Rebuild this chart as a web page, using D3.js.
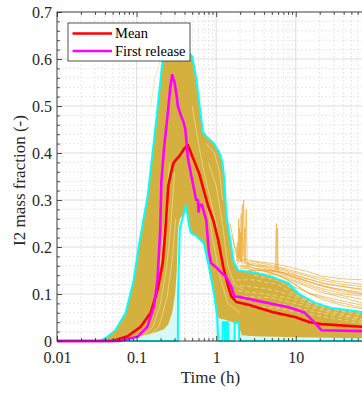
<!DOCTYPE html>
<html>
<head>
<meta charset="utf-8">
<script src="https://cdn.jsdelivr.net/npm/d3@7"></script>
<style>
  body { margin: 0; background: #fff; }
  svg { display: block; font-family: "Liberation Serif", "Times New Roman", serif; }
</style>
</head>
<body>
<svg id="chart" width="362" height="394"></svg>
<script>
// values as [time (h), I2 mass fraction]
var meanCurve = [[0.01,0],[0.05,0],[0.077,0.01],[0.112,0.03],[0.15,0.06],[0.184,0.11],[0.213,0.166],
  [0.23,0.236],[0.25,0.33],[0.27,0.357],[0.29,0.378],[0.31,0.385],[0.35,0.395],[0.4,0.41],[0.44,0.417],
  [0.51,0.39],[0.61,0.357],[0.7,0.32],[0.8,0.285],[0.92,0.257],[1.06,0.215],[1.23,0.157],[1.42,0.115],
  [1.55,0.095],[1.79,0.083],[2.55,0.077],[4.97,0.062],[9.8,0.051],[15,0.04],[21,0.036],[72,0.03]];

var firstRelease = [[0.01,0],[0.06,0],[0.102,0.009],[0.136,0.03],[0.165,0.073],[0.183,0.13],[0.198,0.236],
  [0.205,0.34],[0.22,0.406],[0.245,0.48],[0.265,0.54],[0.28,0.566],[0.3,0.55],[0.32,0.52],[0.33,0.5],
  [0.36,0.48],[0.39,0.465],[0.41,0.45],[0.44,0.39],[0.48,0.357],[0.56,0.3],[0.59,0.3],[0.6,0.275],
  [0.62,0.29],[0.66,0.29],[0.75,0.257],[0.81,0.19],[0.86,0.166],[1.0,0.157],[1.16,0.145],[1.34,0.136],
  [1.55,0.115],[1.7,0.094],[1.9,0.094],[3.0,0.087],[8.2,0.072],[13,0.06],[17.5,0.038],[21,0.023],[72,0.021]];

var upperEnvelope = [[0.01,0],[0.035,0],[0.043,0.009],[0.054,0.023],[0.073,0.06],[0.092,0.13],[0.106,0.2],
  [0.138,0.31],[0.174,0.46],[0.213,0.6],[0.24,0.612],[0.3,0.618],[0.36,0.612],[0.45,0.614],[0.5,0.605],
  [0.56,0.56],[0.62,0.5],[0.68,0.445],[0.75,0.435],[0.94,0.42],[1.1,0.4],[1.2,0.38],[1.27,0.34],
  [1.34,0.27],[1.55,0.2],[1.67,0.166],[1.9,0.15],[2.77,0.147],[4.97,0.137],[8.1,0.123],[10.9,0.1],
  [17.5,0.081],[28.6,0.07],[72,0.061]];

var lowerEnvelope = [[0.01,0],[0.33,0],[0.332,0.1],[0.35,0.24],[0.39,0.27],[0.42,0.29],[0.45,0.25],
  [0.48,0.23],[0.55,0.225],[0.61,0.218],[0.7,0.208],[0.81,0.158],[0.94,0.1],[1.03,0.052],[1.06,0],
  [1.2,0],[1.21,0.04],[1.28,0.04],[1.29,0],[1.33,0],[1.34,0.04],[1.4,0.04],[1.41,0],[1.7,0],
  [1.71,0.04],[1.93,0.04],[1.95,0],[72,0]];

// bottom edge of the dense bundle of runs
var bundleLower = [[0.035,0],[0.07,0.003],[0.1,0.008],[0.13,0.013],[0.17,0.018],[0.22,0.025],[0.25,0.035],
  [0.28,0.06],[0.305,0.1],[0.32,0.15],[0.332,0.24],[0.35,0.26],[0.39,0.27],[0.42,0.29],[0.45,0.25],
  [0.48,0.23],[0.55,0.225],[0.61,0.218],[0.7,0.208],[0.81,0.158],[0.94,0.1],[1.03,0.055],[1.1,0.048],
  [1.3,0.045],[1.6,0.04],[1.9,0.035],[2.1,0.012],[3,0.01],[10,0.008],[72,0.006]];

// light gaps between runs inside the bundle (rise and fall)
var paleRuns = [
  [[0.09,0.004],[0.13,0.03],[0.17,0.09],[0.2,0.17],[0.23,0.27],[0.26,0.38]],
  [[0.11,0.004],[0.16,0.03],[0.2,0.08],[0.24,0.16],[0.27,0.25],[0.3,0.36]],
  [[0.13,0.006],[0.19,0.03],[0.24,0.09],[0.28,0.17],[0.31,0.26]],
  [[0.15,0.5],[0.17,0.56],[0.2,0.6]],
  [[0.5,0.5],[0.6,0.42],[0.7,0.36],[0.85,0.3],[1.0,0.25],[1.2,0.17],[1.5,0.1],[2,0.08]],
  [[0.6,0.36],[0.75,0.3],[0.9,0.22],[1.1,0.14],[1.4,0.08],[2,0.06]],
  [[0.8,0.38],[1.0,0.33],[1.2,0.25],[1.4,0.16],[1.7,0.12],[2.2,0.11]],
  [[0.75,0.42],[0.95,0.4],[1.1,0.36],[1.2,0.3]]
];

// speckled gaps in the tail of the bundle
var paleTail = [
  [[1.8,0.13],[3,0.13],[6,0.12],[10,0.098],[20,0.074],[72,0.057]],
  [[2,0.118],[4,0.112],[8,0.1],[15,0.082],[40,0.062],[72,0.052]],
  [[1.9,0.107],[4,0.1],[9,0.09],[20,0.07],[72,0.046]],
  [[2.2,0.095],[5,0.092],[10,0.08],[25,0.062],[72,0.044]],
  [[1.7,0.09],[3,0.085],[7,0.078],[15,0.065],[40,0.05],[72,0.04]],
  [[2.5,0.075],[6,0.07],[12,0.06],[30,0.048],[72,0.036]],
  [[3,0.14],[6,0.128],[9,0.112],[14,0.09],[25,0.074]]
];

// single runs that stay above the envelope in the tail
var tailRuns = [
  [[1.8,0.2],[2.0,0.175],[3,0.17],[5,0.165],[8,0.158],[14,0.148],[21,0.138],[40,0.132],[72,0.13]],
  [[1.9,0.17],[3,0.165],[6,0.155],[10,0.145],[20,0.13],[40,0.12],[72,0.115]],
  [[2.0,0.16],[4,0.16],[7,0.15],[12,0.135],[25,0.12],[72,0.11]],
  [[2.2,0.165],[4,0.158],[8,0.14],[15,0.125],[30,0.112],[72,0.103]],
  [[2.5,0.15],[5,0.15],[9,0.135],[18,0.115],[40,0.1],[72,0.095]],
  [[2.0,0.155],[3.5,0.15],[7,0.138],[14,0.118],[30,0.1],[72,0.088]],
  [[3,0.145],[6,0.14],[10,0.125],[20,0.105],[72,0.08]],
  [[1.9,0.16],[2.5,0.155],[4,0.14],[8,0.12],[16,0.1],[72,0.075]],
  [[1.6,0.22],[1.8,0.18],[2.5,0.165],[4,0.155],[7,0.145],[12,0.13],[25,0.115],[72,0.1]],
  [[1.5,0.25],[1.7,0.2],[2.2,0.16],[3,0.155],[6,0.148],[10,0.14],[20,0.125],[72,0.108]],
  [[2.4,0.16],[4,0.15],[6,0.14],[10,0.12],[15,0.1],[30,0.085],[72,0.07]],
  [[3,0.155],[5,0.145],[8,0.13],[12,0.11],[20,0.09],[40,0.075],[72,0.068]],
  [[4,0.15],[7,0.145],[12,0.132],[20,0.118],[40,0.105],[72,0.098]],
  [[2.7,0.17],[4.5,0.163],[9,0.15],[16,0.138],[30,0.128],[72,0.12]]
];

// short spikes of single runs
var spikeRuns = [
  [[1.8,0.16],[1.9,0.17],[1.96,0.24],[2.0,0.17],[2.06,0.27],[2.1,0.17],[2.22,0.3],[2.28,0.17],
   [2.39,0.28],[2.45,0.17],[2.6,0.16]],
  [[1.8,0.17],[1.85,0.21],[1.88,0.17],[1.92,0.26],[1.95,0.18],[2.02,0.23],[2.04,0.17],[2.13,0.29],
   [2.16,0.18],[2.3,0.24],[2.33,0.17],[2.5,0.16]],
  [[5,0.15],[5.5,0.15],[5.7,0.25],[5.8,0.15],[5.9,0.24],[6.0,0.15],[7,0.145]]
];

var xTicks = [0.01, 0.1, 1, 10];
var xTickLabels = ["0.01", "0.1", "1", "10"];
var yTicks = [0, 0.1, 0.2, 0.3, 0.4, 0.5, 0.6, 0.7];
var yTickLabels = ["0", "0.1", "0.2", "0.3", "0.4", "0.5", "0.6", "0.7"];
var legendLabels = ["Mean", "First release"];
var legendColors = ["#ff0000", "#ff00ff"];

var serif = "'Liberation Serif', 'Times New Roman', serif";
var box = { left: 57, right: 364, top: 12, bottom: 341 };

var svg = d3.select("#chart");

var x = d3.scaleLog().domain([0.01, 72]).range([box.left, box.right]);
var y = d3.scaleLinear().domain([0, 0.7]).range([box.bottom, box.top]);

var line = d3.line().x(function (d) { return x(d[0]); }).y(function (d) { return y(d[1]); });

// grid
var grid = svg.append("g");
var minorX = x.ticks().filter(function (d) { return xTicks.indexOf(d) < 0; });
var minorY = d3.range(0, 0.7001, 0.02).filter(function (d) { return Math.abs(d * 10 - Math.round(d * 10)) > 1e-6; });

grid.selectAll(".mx").data(minorX).enter().append("line")
  .attr("x1", x).attr("x2", x).attr("y1", box.top).attr("y2", box.bottom)
  .attr("stroke", "#e2e2e2").attr("stroke-width", 0.8).attr("stroke-dasharray", "2,2");
grid.selectAll(".my").data(minorY).enter().append("line")
  .attr("x1", box.left).attr("x2", box.right).attr("y1", y).attr("y2", y)
  .attr("stroke", "#e2e2e2").attr("stroke-width", 0.8).attr("stroke-dasharray", "2,2");
grid.selectAll(".gx").data(xTicks).enter().append("line")
  .attr("x1", x).attr("x2", x).attr("y1", box.top).attr("y2", box.bottom)
  .attr("stroke", "#d6d6d6").attr("stroke-width", 0.8);
grid.selectAll(".gy").data(yTicks).enter().append("line")
  .attr("x1", box.left).attr("x2", box.right).attr("y1", y).attr("y2", y)
  .attr("stroke", "#d6d6d6").attr("stroke-width", 0.8);

svg.append("clipPath").attr("id", "clip").append("rect")
  .attr("x", box.left).attr("y", box.top - 2)
  .attr("width", box.right - box.left).attr("height", box.bottom - box.top + 4);

var plot = svg.append("g").attr("clip-path", "url(#clip)");

// shaded range between the envelopes
plot.append("path")
  .attr("d", line(upperEnvelope.concat(lowerEnvelope.slice().reverse())) + "Z")
  .attr("fill", "#d8f7f7");

// dense bundle of runs
plot.append("path")
  .attr("d", line(upperEnvelope.slice(1).concat(bundleLower.slice().reverse())) + "Z")
  .attr("fill", "#d4b13e");

plot.selectAll(".pale").data(paleRuns).enter().append("path")
  .attr("d", line).attr("fill", "none")
  .attr("stroke", "#ecdca4").attr("stroke-width", 0.7);

plot.selectAll(".paletail").data(paleTail).enter().append("path")
  .attr("d", line).attr("fill", "none")
  .attr("stroke", "#ecdca4").attr("stroke-width", 0.8).attr("stroke-dasharray", "4,3");

plot.selectAll(".tail").data(tailRuns.concat(spikeRuns)).enter().append("path")
  .attr("d", line).attr("fill", "none")
  .attr("stroke", "#eeaa35").attr("stroke-opacity", 0.85).attr("stroke-width", 0.8);

plot.append("path").datum(upperEnvelope).attr("d", line)
  .attr("fill", "none").attr("stroke", "#00ffff").attr("stroke-width", 2);
plot.append("path").datum(lowerEnvelope).attr("d", line)
  .attr("fill", "none").attr("stroke", "#00ffff").attr("stroke-width", 2);

plot.append("path").datum(meanCurve).attr("d", line)
  .attr("fill", "none").attr("stroke", "#ff0000").attr("stroke-width", 2.6)
  .attr("stroke-linejoin", "round");
plot.append("path").datum(firstRelease).attr("d", line)
  .attr("fill", "none").attr("stroke", "#ff00ff").attr("stroke-width", 2.6)
  .attr("stroke-linejoin", "round");

// axes, ticks inside like matlab
var axisColor = "#262626";
function styleAxis(g) {
  g.attr("font-family", serif).attr("font-size", 16);
  g.select(".domain").remove();
  g.selectAll(".tick line").attr("stroke", axisColor).attr("stroke-width", 0.8);
  g.selectAll("text").attr("fill", "#262626");
}

svg.append("g").attr("transform", "translate(0," + box.bottom + ")")
  .call(d3.axisBottom(x).tickValues(xTicks).tickFormat(function (d, i) { return xTickLabels[i]; })
    .tickSizeInner(-5).tickSizeOuter(0).tickPadding(10.5))
  .call(styleAxis);
svg.append("g").attr("transform", "translate(0," + box.bottom + ")")
  .call(d3.axisBottom(x).tickValues(minorX).tickFormat("").tickSizeInner(-3).tickSizeOuter(0))
  .call(styleAxis);
svg.append("g").attr("transform", "translate(0," + box.top + ")")
  .call(d3.axisTop(x).tickValues(xTicks).tickFormat("").tickSizeInner(-5).tickSizeOuter(0))
  .call(styleAxis);
svg.append("g").attr("transform", "translate(0," + box.top + ")")
  .call(d3.axisTop(x).tickValues(minorX).tickFormat("").tickSizeInner(-3).tickSizeOuter(0))
  .call(styleAxis);
svg.append("g").attr("transform", "translate(" + box.left + ",0)")
  .call(d3.axisLeft(y).tickValues(yTicks).tickFormat(function (d, i) { return yTickLabels[i]; })
    .tickSizeInner(-5).tickSizeOuter(0).tickPadding(5))
  .call(styleAxis);
svg.append("g").attr("transform", "translate(" + box.left + ",0)")
  .call(d3.axisLeft(y).tickValues(minorY).tickFormat("").tickSizeInner(-3).tickSizeOuter(0))
  .call(styleAxis);

svg.append("rect")
  .attr("x", box.left).attr("y", box.top)
  .attr("width", box.right - box.left).attr("height", box.bottom - box.top)
  .attr("fill", "none").attr("stroke", axisColor).attr("stroke-width", 0.8);

svg.append("text")
  .attr("x", (box.left + box.right) / 2).attr("y", 383)
  .attr("text-anchor", "middle").attr("font-family", serif).attr("font-size", 17)
  .attr("fill", "#262626")
  .text("Time (h)");

svg.append("text")
  .attr("transform", "translate(25," + ((box.top + box.bottom) / 2 + 4) + ") rotate(-90)")
  .attr("text-anchor", "middle").attr("font-family", serif).attr("font-size", 17)
  .attr("fill", "#262626")
  .text("I2 mass fraction (-)");

// legend
var legend = svg.append("g").attr("transform", "translate(68,23)");
legend.append("rect").attr("width", 122).attr("height", 38)
  .attr("fill", "#fff").attr("stroke", axisColor).attr("stroke-width", 0.8);
var item = legend.selectAll("g.item").data(legendLabels).enter().append("g")
  .attr("class", "item")
  .attr("transform", function (d, i) { return "translate(0," + (10.5 + i * 17.5) + ")"; });
item.append("line").attr("x1", 4.5).attr("x2", 44)
  .attr("stroke", function (d, i) { return legendColors[i]; }).attr("stroke-width", 2.6);
item.append("text").attr("x", 47).attr("dy", "0.33em")
  .attr("font-family", serif).attr("font-size", 14.5).attr("fill", "#000")
  .text(function (d) { return d; });
</script>
</body>
</html>
